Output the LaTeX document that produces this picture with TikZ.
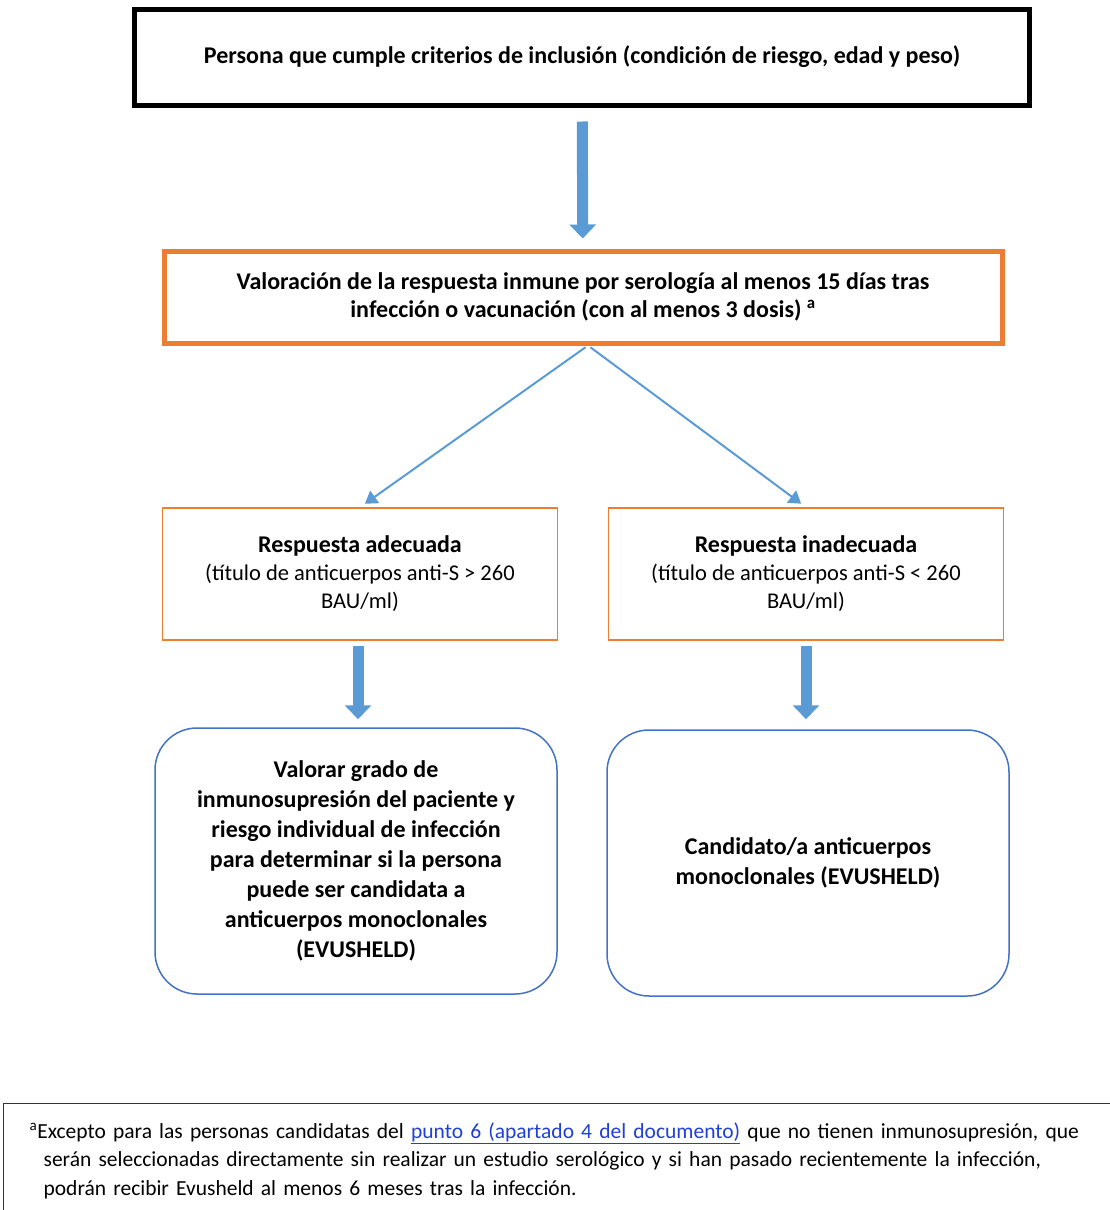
\documentclass[tikz,border=0pt]{standalone}
\usepackage{fontspec}
\setmainfont{Carlito}
\usetikzlibrary{arrows.meta}
\definecolor{arrowBlue}{HTML}{5B9BD5}
\definecolor{boxOrange}{HTML}{ED7D31}
\definecolor{boxBlue}{HTML}{4472C4}
\definecolor{linkBlue}{HTML}{1F3FD6}
\tikzset{x=1pt, y=-1pt, every edge/.style={draw,arrowBlue,line width=2pt,
		-{Triangle[width=15pt,length=12pt]}},
	bigArrow/.style={draw,arrowBlue,line width=11pt,-{Triangle[width=26pt,length=14pt]}}}
\tikzstyle{critBox}=[rectangle,draw=black,line width=5pt,minimum width=895pt,minimum height=96pt,font=\bfseries\fontsize{24}{28}\selectfont]
\tikzstyle{serolBox}=[rectangle,draw=boxOrange,line width=5pt,minimum width=838pt,minimum height=92pt,align=center,font=\bfseries\fontsize{24}{28}\selectfont]
\tikzstyle{respBox}=[rectangle,draw=boxOrange,line width=1.5pt,minimum width=395pt,minimum height=132pt,align=center,font=\fontsize{22.5}{28}\selectfont]
\tikzstyle{candBox}=[rectangle,draw=boxBlue,line width=1.5pt,rounded corners=42pt,minimum width=402pt,minimum height=266pt,align=center,font=\bfseries\fontsize{24}{30}\selectfont]
\tikzstyle{noteBox}=[rectangle,draw=black!80,line width=1.2pt,text width=1090pt,align=left,anchor=north west,inner xsep=26pt,inner ysep=19pt,font=\fontsize{21.5}{28.5}\selectfont]

\begin{document}
\begin{tikzpicture}
		\useasboundingbox (0,0) rectangle (1110,1210);
		\node at (582,57) [critBox] (crit) {Persona que cumple criterios de inclusión (condición de riesgo, edad y peso)};
		\node at (583,297) [serolBox] (serol) {Valoración de la respuesta inmune por serología al menos 15 días tras\\infección o vacunación (con al menos 3 dosis) \textsuperscript{a}};
		\node at (360,574) [respBox] (adeq) {\textbf{\fontsize{24}{28}\selectfont Respuesta adecuada}\\(título de anticuerpos anti-S > 260\\BAU/ml)};
		\node at (806,574) [respBox] (inadeq) {\textbf{\fontsize{24}{28}\selectfont Respuesta inadecuada}\\(título de anticuerpos anti-S < 260\\BAU/ml)};
		\node at (356,861) [candBox] (valorar) {Valorar grado de\\inmunosupresión del paciente y\\riesgo individual de infección\\para determinar si la persona\\puede ser candidata a\\anticuerpos monoclonales\\(EVUSHELD)};
		\node at (808,863) [candBox] (cand) {Candidato/a anticuerpos\\monoclonales (EVUSHELD)};
		\node at (3,1103) [noteBox] (nota) {\textsuperscript{a}Excepto para las personas candidatas del {\color{linkBlue}\underline{punto 6 (apartado 4 del documento)}} que no tienen inmunosupresión, que\\
			\hspace*{14pt}serán seleccionadas directamente sin realizar un estudio serológico y si han pasado recientemente la infección,\\
			\hspace*{14pt}podrán recibir Evusheld al menos 6 meses tras la infección.\\[24pt]\mbox{}};
		\draw [bigArrow,shorten <=14pt,shorten >=10pt] (crit) -- (serol);
		\draw ([xshift=5pt]serol.south) edge [shorten <=3pt,shorten >=6pt] (adeq.north);
		\draw ([xshift=5pt]serol.south) edge [shorten <=3pt,shorten >=6pt] (inadeq.north);
		\draw [bigArrow,shorten <=5pt,shorten >=8pt] ([xshift=-2pt]adeq.south) -- ([xshift=-2pt]adeq.south |- valorar.north);
		\draw [bigArrow,shorten <=5pt,shorten >=10pt] (inadeq.south) -- (inadeq.south |- cand.north);
\end{tikzpicture}
\end{document}
